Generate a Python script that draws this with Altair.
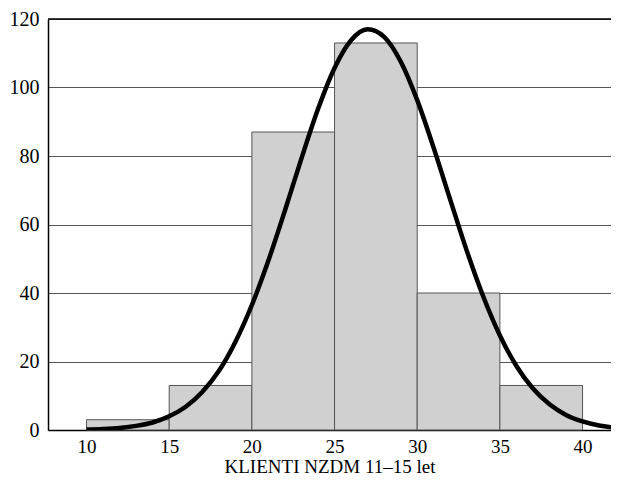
import altair as alt
import pandas as pd

# Histogram bins (class limits) and counts
bin_start = [10, 15, 20, 25, 30, 35]
bin_end = [15, 20, 25, 30, 35, 40]
counts = [3, 13, 87, 113, 40, 13]

# Normal curve, values
curve_x = [10, 11, 12, 13, 14, 15, 16, 17, 18, 19, 20, 21, 22, 23, 24, 25, 26, 27,
           28, 29, 30, 31, 32, 33, 34, 35, 36, 37, 38, 39, 40, 41, 42]
curve_y = [0.14, 0.3, 0.6, 1.2, 2.2, 4.0, 6.8, 11.1, 17.2, 25.7, 36.5, 49.5, 64.1,
           79.3, 93.7, 105.7, 113.8, 117.0, 114.8, 107.6, 96.3, 82.3, 67.2, 52.3,
           38.9, 27.6, 18.7, 12.1, 7.5, 4.4, 2.5, 1.3, 0.7]

y_ticks = [0, 20, 40, 60, 80, 100, 120]
x_ticks = [10, 15, 20, 25, 30, 35, 40]
x_title = "KLIENTI NZDM 11–15 let"

FONT = "Liberation Serif"
XDOM = [7.67, 41.72]

bars_df = pd.DataFrame({"start": bin_start, "end": bin_end, "count": counts})
curve_df = pd.DataFrame({"x": curve_x, "y": curve_y})
top_df = pd.DataFrame({"y": [120]})

x_scale = alt.Scale(domain=XDOM, nice=False, zero=False)
y_scale = alt.Scale(domain=[0, 120], nice=False)

bars = alt.Chart(bars_df).mark_bar(
    fill="#d0d0d0", stroke="#555555", strokeWidth=1
).encode(
    x=alt.X("start:Q", scale=x_scale,
            axis=alt.Axis(values=x_ticks, title=x_title, ticks=False, grid=False,
                          labelPadding=7, titlePadding=1, domainColor="black",
                          domainWidth=1.5, labelFontSize=19, titleFontSize=19,
                          labelFont=FONT, titleFont=FONT, labelColor="black",
                          titleColor="black", titleFontWeight="normal")),
    x2="end:Q",
    y=alt.Y("count:Q", scale=y_scale,
            axis=alt.Axis(values=y_ticks, title=None, ticks=False, grid=True,
                          gridColor="#555555", gridWidth=1, gridOpacity=1,
                          labelPadding=9, domainColor="black", domainWidth=1.5,
                          labelFontSize=20, labelFont=FONT, labelColor="black")),
    y2=alt.datum(0),
)

top = alt.Chart(top_df).mark_rule(color="black", strokeWidth=1.5).encode(
    y=alt.Y("y:Q", scale=y_scale)
)

curve = alt.Chart(curve_df).mark_line(
    color="black", strokeWidth=4.5, interpolate="monotone", clip=True
).encode(
    x=alt.X("x:Q", scale=x_scale),
    y=alt.Y("y:Q", scale=y_scale),
)

chart = alt.layer(bars, top, curve).properties(
    width=563, height=411,
    autosize=alt.AutoSizeParams(type="none"),
    padding={"left": 40, "top": 11, "right": 0, "bottom": 45},
).configure_view(stroke=None)

chart.save("out.html", embed_options={"renderer": "svg", "actions": False})
